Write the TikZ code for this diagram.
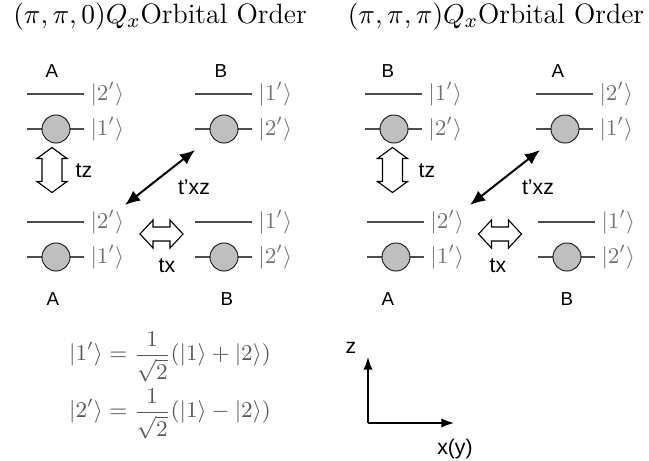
\documentclass[tikz,border=0pt]{standalone}
\usepackage{amsmath}
\usepackage{fontspec}
\setsansfont{Liberation Sans}
\usetikzlibrary{arrows.meta}

\begin{document}
\begin{tikzpicture}[
  x=0.4pt, y=-0.4pt,
  level/.style={draw=black!70, line width=0.45pt},
  orb/.style={circle, draw=black!85, fill=black!25, line width=0.4pt, minimum size=11.2pt, inner sep=0pt},
  ket/.style={anchor=west, text=black!55, inner sep=0pt, font=\fontsize{9}{10}\selectfont},
  sitelabel/.style={font=\sffamily\fontsize{7.5}{9}\selectfont},
  hoplabel/.style={font=\sffamily\fontsize{8.5}{10}\selectfont},
  title/.style={font=\fontsize{11.2}{13}\selectfont},
  eqn/.style={text=black!65, inner sep=0pt, font=\fontsize{9}{11}\selectfont},
  hopxz/.style={{Latex[length=6pt,width=5pt]}-{Latex[length=6pt,width=5pt]}, line width=0.8pt},
  axis/.style={-{Latex[length=5pt,width=3.6pt]}, line width=0.5pt},
  pics/orbsite/.style 2 args={code={
    \draw[level] (-28.5,-35) -- (28.5,-35);
    \draw[level] (-28.5,0) -- (28.5,0);
    \node[orb] (-orb) at (0,0) {};
    \node[ket] (-up) at (34,-35) {$|#1'\rangle$};
    \node[ket] (-dn) at (34,0) {$|#2'\rangle$};
  }},
  pics/blockarr/.style n args={4}{code={
    \draw[line width=0.45pt, fill=white] (-#1,0) -- (-#1+#2,#3) -- (-#1+#2,#4) -- (#1-#2,#4)
      -- (#1-#2,#3) -- (#1,0) -- (#1-#2,-#3) -- (#1-#2,-#4) -- (-#1+#2,-#4) -- (-#1+#2,-#3) -- cycle;
  }}
]
\useasboundingbox (0,0) rectangle (649,461);

% titles
\node[title] (title1) at (160,17) {$(\pi,\pi,0)Q_x$Orbital Order};
\node[title] (title2) at (496,17) {$(\pi,\pi,\pi)Q_x$Orbital Order};

% (pi,pi,0) order
\pic (sa1) at (56,129) {orbsite={2}{1}};
\pic (sb1) at (224,129) {orbsite={1}{2}};
\pic (sc1) at (56,257) {orbsite={2}{1}};
\pic (sd1) at (224,257) {orbsite={1}{2}};
\node[sitelabel] (la1) at (52,71) {A};
\node[sitelabel] (lb1) at (221,71) {B};
\node[sitelabel] (lc1) at (53,299) {A};
\node[sitelabel] (ld1) at (227,299) {B};

\pic[rotate=90] at (52,170) {blockarr={22.5}{11}{15}{10}};
\pic at (161.5,234) {blockarr={21.5}{13}{14}{7}};
\coordinate (xza1) at (125,205);
\coordinate (xzb1) at (195,150);
\draw[hopxz] (xza1) -- (xzb1);
\node[hoplabel] (tz1) at (84,171) {tz};
\node[hoplabel] (txz1) at (194,187) {t'xz};
\node[hoplabel] (tx1) at (167,266) {tx};

% (pi,pi,pi) order
\pic (sa2) at (394,129) {orbsite={1}{2}};
\pic (sb2) at (565,129) {orbsite={2}{1}};
\pic (sc2) at (396,257) {orbsite={2}{1}};
\pic (sd2) at (567,257) {orbsite={1}{2}};
\node[sitelabel] (la2) at (388,71) {B};
\node[sitelabel] (lb2) at (558,71) {A};
\node[sitelabel] (lc2) at (388,299) {A};
\node[sitelabel] (ld2) at (567,299) {B};

\pic[rotate=90] at (392.5,170) {blockarr={22.5}{11}{15}{10}};
\pic at (500,234) {blockarr={21.5}{13}{14}{7}};
\coordinate (xza2) at (470,205);
\coordinate (xzb2) at (540,150);
\draw[hopxz] (xza2) -- (xzb2);
\node[hoplabel] (tz2) at (427,171) {tz};
\node[hoplabel] (txz2) at (538,187) {t'xz};
\node[hoplabel] (tx2) at (498,266) {tx};

% basis
\node[eqn] (eqa) at (170,357) {$\displaystyle |1'\rangle=\frac{1}{\sqrt{2}}(|1\rangle+|2\rangle)$};
\node[eqn] (eqb) at (170,414) {$\displaystyle |2'\rangle=\frac{1}{\sqrt{2}}(|1\rangle-|2\rangle)$};

% axes
\coordinate (orig) at (368,423);
\coordinate (ztip) at (368,357);
\coordinate (xtip) at (454,423);
\draw[axis] (orig) -- (ztip);
\draw[axis] (orig) -- (xtip);
\node[hoplabel] (zlab) at (351,348) {z};
\node[hoplabel] (xlab) at (455,449) {x(y)};
\end{tikzpicture}
\end{document}
